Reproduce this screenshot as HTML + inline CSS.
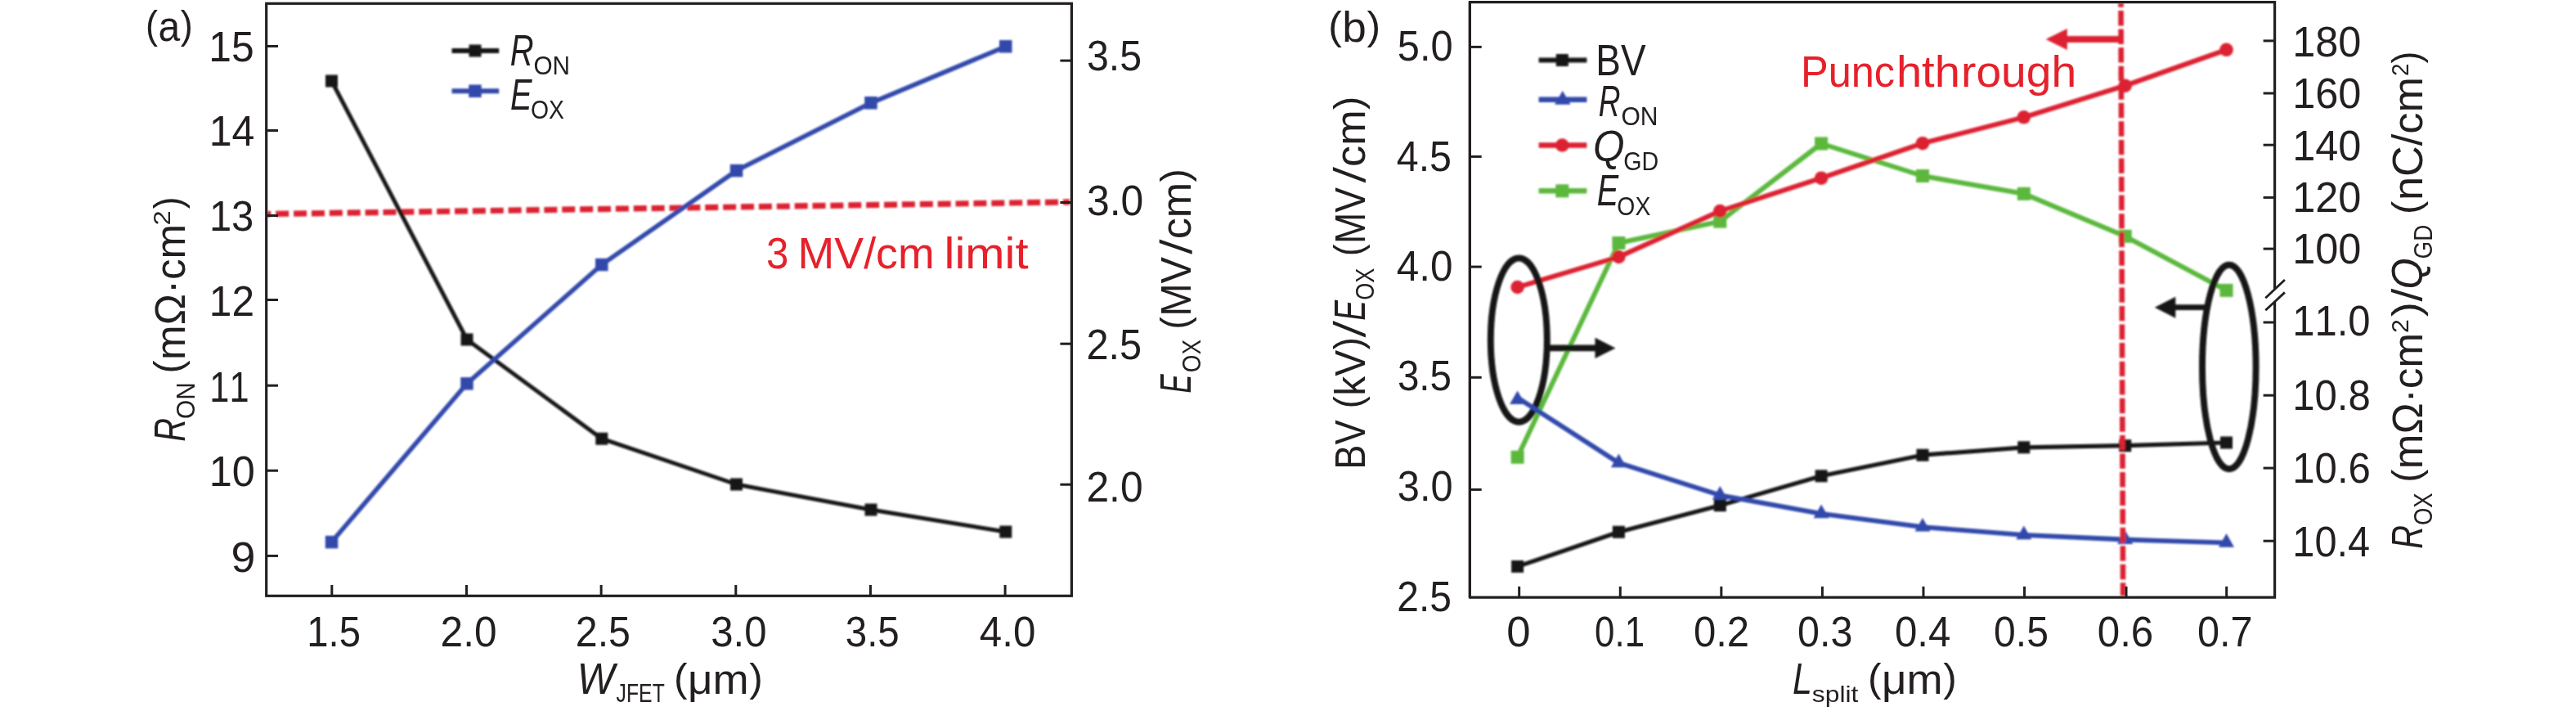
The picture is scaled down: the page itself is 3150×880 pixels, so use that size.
<!DOCTYPE html>
<html lang="en">
<head>
<meta charset="utf-8">
<title>Figure</title>
<style>
html,body{margin:0;padding:0;background:#fff;}
body{width:3150px;height:880px;overflow:hidden;}
svg{display:block;}
svg text{font-family:"Liberation Sans",sans-serif;font-kerning:none;}
</style>
</head>
<body>
<svg width="3150" height="880" viewBox="0 0 3150 880">
<rect x="0" y="0" width="3150" height="880" fill="#ffffff"/>
<defs><filter id="soft" x="-5%" y="-5%" width="110%" height="110%"><feGaussianBlur stdDeviation="0.85"/></filter></defs>
<g opacity="0.999">
<g id="pa" fill="#231f20">
<g filter="url(#soft)">
<line x1="327.00" y1="261.60" x2="1308.00" y2="246.90" stroke="#dc2333" stroke-width="7.2" stroke-dasharray="16 5.88" stroke-dashoffset="11.66"/>
<polyline fill="none" stroke="#141414" stroke-width="5" stroke-linejoin="round" points="405.5,99.0 571.0,415.0 735.8,536.2 900.5,592.0 1065.0,623.0 1229.8,650.0"/>
<rect x="398.0" y="91.5" width="15" height="15" fill="#141414"/>
<rect x="563.5" y="407.5" width="15" height="15" fill="#141414"/>
<rect x="728.3" y="528.7" width="15" height="15" fill="#141414"/>
<rect x="893.0" y="584.5" width="15" height="15" fill="#141414"/>
<rect x="1057.5" y="615.5" width="15" height="15" fill="#141414"/>
<rect x="1222.3" y="642.5" width="15" height="15" fill="#141414"/>
<polyline fill="none" stroke="#3349ab" stroke-width="5.6" stroke-linejoin="round" points="405.5,662.5 571.0,468.8 735.8,323.5 900.5,208.6 1065.0,125.8 1229.8,56.8"/>
<rect x="397.8" y="654.8" width="15.5" height="15.5" fill="#3349ab"/>
<rect x="563.2" y="461.1" width="15.5" height="15.5" fill="#3349ab"/>
<rect x="728.0" y="315.8" width="15.5" height="15.5" fill="#3349ab"/>
<rect x="892.8" y="200.8" width="15.5" height="15.5" fill="#3349ab"/>
<rect x="1057.2" y="118.0" width="15.5" height="15.5" fill="#3349ab"/>
<rect x="1222.0" y="49.0" width="15.5" height="15.5" fill="#3349ab"/>
</g>
<rect x="325.7" y="4.3" width="984.7" height="724.0" fill="none" stroke="#231f20" stroke-width="3.2"/>
<line x1="325.70" y1="56.50" x2="340.00" y2="56.50" stroke="#231f20" stroke-width="3"/>
<line x1="325.70" y1="159.50" x2="340.00" y2="159.50" stroke="#231f20" stroke-width="3"/>
<line x1="325.70" y1="263.50" x2="340.00" y2="263.50" stroke="#231f20" stroke-width="3"/>
<line x1="325.70" y1="366.50" x2="340.00" y2="366.50" stroke="#231f20" stroke-width="3"/>
<line x1="325.70" y1="471.20" x2="340.00" y2="471.20" stroke="#231f20" stroke-width="3"/>
<line x1="325.70" y1="575.20" x2="340.00" y2="575.20" stroke="#231f20" stroke-width="3"/>
<line x1="325.70" y1="679.40" x2="340.00" y2="679.40" stroke="#231f20" stroke-width="3"/>
<line x1="1296.40" y1="74.10" x2="1310.40" y2="74.10" stroke="#231f20" stroke-width="3"/>
<line x1="1296.40" y1="247.50" x2="1310.40" y2="247.50" stroke="#231f20" stroke-width="3"/>
<line x1="1296.40" y1="420.20" x2="1310.40" y2="420.20" stroke="#231f20" stroke-width="3"/>
<line x1="1296.40" y1="592.20" x2="1310.40" y2="592.20" stroke="#231f20" stroke-width="3"/>
<line x1="405.80" y1="728.30" x2="405.80" y2="715.00" stroke="#231f20" stroke-width="3"/>
<line x1="570.46" y1="728.30" x2="570.46" y2="715.00" stroke="#231f20" stroke-width="3"/>
<line x1="735.12" y1="728.30" x2="735.12" y2="715.00" stroke="#231f20" stroke-width="3"/>
<line x1="899.78" y1="728.30" x2="899.78" y2="715.00" stroke="#231f20" stroke-width="3"/>
<line x1="1064.44" y1="728.30" x2="1064.44" y2="715.00" stroke="#231f20" stroke-width="3"/>
<line x1="1229.10" y1="728.30" x2="1229.10" y2="715.00" stroke="#231f20" stroke-width="3"/>
<g filter="url(#soft)">
<line x1="552.50" y1="62.00" x2="610.20" y2="62.00" stroke="#141414" stroke-width="5.8"/>
<rect x="573.5" y="54.5" width="15" height="15" fill="#141414"/>
<line x1="552.50" y1="111.20" x2="610.20" y2="111.20" stroke="#3349ab" stroke-width="6"/>
<rect x="573.2" y="103.5" width="15.5" height="15.5" fill="#3349ab"/>
</g>
<text x="623.87" y="80.00" font-size="53" font-style="italic" textLength="28.86" lengthAdjust="spacingAndGlyphs">R</text>
<text x="652.39" y="90.60" font-size="31" textLength="44.64" lengthAdjust="spacingAndGlyphs">ON</text>
<text x="623.88" y="134.10" font-size="53" font-style="italic" textLength="26.56" lengthAdjust="spacingAndGlyphs">E</text>
<text x="648.96" y="145.20" font-size="31" textLength="40.94" lengthAdjust="spacingAndGlyphs">OX</text>
<text x="936.93" y="328.00" font-size="53" fill="#e6212b" textLength="27.33" lengthAdjust="spacingAndGlyphs">3</text>
<text x="975.60" y="328.00" font-size="53" fill="#e6212b" textLength="167.04" lengthAdjust="spacingAndGlyphs">MV/cm</text>
<text x="1154.60" y="328.00" font-size="53" fill="#e6212b" textLength="102.93" lengthAdjust="spacingAndGlyphs">limit</text>
<text x="178.10" y="47.18" font-size="48.88" textLength="15.02" lengthAdjust="spacingAndGlyphs">(</text>
<text x="193.61" y="50.40" font-size="52" textLength="26.69" lengthAdjust="spacingAndGlyphs">a</text>
<text x="220.77" y="47.18" font-size="48.88" textLength="15.02" lengthAdjust="spacingAndGlyphs">)</text>
<text x="255.21" y="74.50" font-size="52" textLength="55.38" lengthAdjust="spacingAndGlyphs">15</text>
<text x="255.79" y="178.00" font-size="52" textLength="55.68" lengthAdjust="spacingAndGlyphs">14</text>
<text x="255.88" y="281.90" font-size="52" textLength="54.37" lengthAdjust="spacingAndGlyphs">13</text>
<text x="255.82" y="386.10" font-size="52" textLength="55.17" lengthAdjust="spacingAndGlyphs">12</text>
<text x="256.30" y="490.50" font-size="52" textLength="48.22" lengthAdjust="spacingAndGlyphs">11</text>
<text x="255.76" y="594.40" font-size="52" textLength="56.11" lengthAdjust="spacingAndGlyphs">10</text>
<text x="282.48" y="698.70" font-size="52" textLength="29.86" lengthAdjust="spacingAndGlyphs">9</text>
<text transform="translate(225.60 538.60) rotate(-90)" x="-1.23" y="0.00" font-size="53" font-style="italic" textLength="28.86" lengthAdjust="spacingAndGlyphs">R</text>
<text transform="translate(238.20 510.60) rotate(-90)" x="-1.41" y="0.00" font-size="31" textLength="44.64" lengthAdjust="spacingAndGlyphs">ON</text>
<text transform="translate(225.60 453.80) rotate(-90)" x="-2.66" y="-3.22" font-size="48.88" textLength="16.01" lengthAdjust="spacingAndGlyphs">(</text>
<text transform="translate(225.60 453.80) rotate(-90)" x="13.86" y="0.00" font-size="52" textLength="166.01" lengthAdjust="spacingAndGlyphs">mΩ·cm</text>
<text transform="translate(208.40 273.90) rotate(-90)" x="-1.64" y="0.00" font-size="30" textLength="18.19" lengthAdjust="spacingAndGlyphs">2</text>
<text transform="translate(225.60 255.50) rotate(-90)" x="0.19" y="-3.22" font-size="48.88" textLength="14.76" lengthAdjust="spacingAndGlyphs">)</text>
<text x="375.31" y="789.50" font-size="52" textLength="65.57" lengthAdjust="spacingAndGlyphs">1.5</text>
<text x="538.61" y="789.50" font-size="52" textLength="68.93" lengthAdjust="spacingAndGlyphs">2.0</text>
<text x="703.77" y="789.50" font-size="52" textLength="67.16" lengthAdjust="spacingAndGlyphs">2.5</text>
<text x="869.23" y="789.50" font-size="52" textLength="68.29" lengthAdjust="spacingAndGlyphs">3.0</text>
<text x="1033.79" y="789.50" font-size="52" textLength="66.00" lengthAdjust="spacingAndGlyphs">3.5</text>
<text x="1197.77" y="789.50" font-size="52" textLength="68.56" lengthAdjust="spacingAndGlyphs">4.0</text>
<text x="705.79" y="848.40" font-size="53" font-style="italic" textLength="45.98" lengthAdjust="spacingAndGlyphs">W</text>
<text x="753.61" y="858.20" font-size="31" textLength="59.16" lengthAdjust="spacingAndGlyphs">JFET</text>
<text x="823.95" y="845.18" font-size="48.88" textLength="16.57" lengthAdjust="spacingAndGlyphs">(</text>
<text x="841.05" y="848.40" font-size="52" textLength="74.61" lengthAdjust="spacingAndGlyphs">μm</text>
<text x="916.18" y="845.18" font-size="48.88" textLength="16.57" lengthAdjust="spacingAndGlyphs">)</text>
<text x="1329.06" y="86.40" font-size="52" textLength="67.06" lengthAdjust="spacingAndGlyphs">3.5</text>
<text x="1329.00" y="262.60" font-size="52" textLength="69.35" lengthAdjust="spacingAndGlyphs">3.0</text>
<text x="1328.45" y="438.50" font-size="52" textLength="67.69" lengthAdjust="spacingAndGlyphs">2.5</text>
<text x="1328.39" y="613.40" font-size="52" textLength="69.25" lengthAdjust="spacingAndGlyphs">2.0</text>
<text transform="translate(1456.30 479.40) rotate(-90)" x="-1.07" y="0.00" font-size="53" font-style="italic" textLength="23.25" lengthAdjust="spacingAndGlyphs">E</text>
<text transform="translate(1468.00 453.90) rotate(-90)" x="-1.32" y="0.00" font-size="31" textLength="40.20" lengthAdjust="spacingAndGlyphs">OX</text>
<text transform="translate(1456.30 400.00) rotate(-90)" x="-2.53" y="-3.22" font-size="48.88" textLength="15.20" lengthAdjust="spacingAndGlyphs">(</text>
<text transform="translate(1456.30 400.00) rotate(-90)" x="13.16" y="0.00" font-size="52" textLength="72.85" lengthAdjust="spacingAndGlyphs">MV</text>
<polygon transform="translate(1456.30 310.70) rotate(-90)" fill="#231f20" points="0,1.40 4.50,1.40 18.30,-38.60 13.80,-38.60"/>
<text transform="translate(1456.30 290.10) rotate(-90)" x="-2.21" y="0.00" font-size="52" textLength="69.40" lengthAdjust="spacingAndGlyphs">cm</text>
<text transform="translate(1456.30 290.10) rotate(-90)" x="67.71" y="-3.22" font-size="48.88" textLength="16.30" lengthAdjust="spacingAndGlyphs">)</text>
</g>
<g id="pb" fill="#231f20">
<g filter="url(#soft)">
<polyline fill="none" stroke="#5bb83d" stroke-width="6" stroke-linejoin="round" points="1855.6,558.8 1979.4,297.0 2103.3,270.6 2227.1,175.5 2351.0,215.0 2474.8,236.8 2598.7,288.8 2722.5,354.9"/>
<rect x="1847.6" y="550.8" width="16" height="16" fill="#5bb83d"/>
<rect x="1971.4" y="289.0" width="16" height="16" fill="#5bb83d"/>
<rect x="2095.3" y="262.6" width="16" height="16" fill="#5bb83d"/>
<rect x="2219.1" y="167.5" width="16" height="16" fill="#5bb83d"/>
<rect x="2343.0" y="207.0" width="16" height="16" fill="#5bb83d"/>
<rect x="2466.8" y="228.8" width="16" height="16" fill="#5bb83d"/>
<rect x="2590.7" y="280.8" width="16" height="16" fill="#5bb83d"/>
<rect x="2714.5" y="346.9" width="16" height="16" fill="#5bb83d"/>
<polyline fill="none" stroke="#dc2333" stroke-width="6" stroke-linejoin="round" points="1855.6,351.0 1979.4,314.0 2103.3,258.0 2227.1,217.7 2351.0,175.2 2474.8,143.3 2598.7,104.7 2722.5,60.8"/>
<circle cx="1855.6" cy="351.0" r="8.3" fill="#dc2333"/>
<circle cx="1979.4" cy="314.0" r="8.3" fill="#dc2333"/>
<circle cx="2103.3" cy="258.0" r="8.3" fill="#dc2333"/>
<circle cx="2227.1" cy="217.7" r="8.3" fill="#dc2333"/>
<circle cx="2351.0" cy="175.2" r="8.3" fill="#dc2333"/>
<circle cx="2474.8" cy="143.3" r="8.3" fill="#dc2333"/>
<circle cx="2598.7" cy="104.7" r="8.3" fill="#dc2333"/>
<circle cx="2722.5" cy="60.8" r="8.3" fill="#dc2333"/>
<polyline fill="none" stroke="#141414" stroke-width="5.2" stroke-linejoin="round" points="1855.6,692.4 1979.4,650.2 2103.3,617.7 2227.1,581.8 2351.0,556.2 2474.8,546.8 2598.7,544.7 2722.5,541.0"/>
<rect x="1848.1" y="684.9" width="15" height="15" fill="#141414"/>
<rect x="1971.9" y="642.7" width="15" height="15" fill="#141414"/>
<rect x="2095.8" y="610.2" width="15" height="15" fill="#141414"/>
<rect x="2219.6" y="574.3" width="15" height="15" fill="#141414"/>
<rect x="2343.5" y="548.7" width="15" height="15" fill="#141414"/>
<rect x="2467.3" y="539.3" width="15" height="15" fill="#141414"/>
<rect x="2591.2" y="537.2" width="15" height="15" fill="#141414"/>
<rect x="2715.0" y="533.5" width="15" height="15" fill="#141414"/>
<ellipse cx="1857.3" cy="415.6" rx="34.5" ry="100.1" fill="none" stroke="#141414" stroke-width="7.9"/>
<ellipse cx="2725.8" cy="448.5" rx="32.8" ry="124.7" fill="none" stroke="#141414" stroke-width="7.9"/>
<line x1="1889.50" y1="425.30" x2="1953.00" y2="425.30" stroke="#141414" stroke-width="7.8"/>
<polygon fill="#141414" points="1975.5,425.4 1950.5,412.7 1950.5,438.1"/>
<line x1="2697.00" y1="375.70" x2="2658.00" y2="375.70" stroke="#141414" stroke-width="6.8"/>
<polygon fill="#141414" points="2634.8,375.7 2660.3,362.7 2660.3,388.7"/>
<polyline fill="none" stroke="#3349ab" stroke-width="5.8" stroke-linejoin="round" points="1855.6,486.0 1979.4,565.8 2103.3,605.3 2227.1,627.8 2351.0,644.2 2474.8,653.8 2598.7,659.5 2722.5,663.3"/>
<polygon fill="#3349ab" points="1855.6,477.5 1846.1,494.0 1865.1,494.0"/>
<polygon fill="#3349ab" points="1979.4,554.5 1969.9,571.2 1988.9,571.2"/>
<polygon fill="#3349ab" points="2103.3,594.0 2093.8,610.7 2112.8,610.7"/>
<polygon fill="#3349ab" points="2227.1,616.5 2217.6,633.2 2236.6,633.2"/>
<polygon fill="#3349ab" points="2351.0,632.9 2341.5,649.6 2360.5,649.6"/>
<polygon fill="#3349ab" points="2474.8,642.5 2465.3,659.2 2484.3,659.2"/>
<polygon fill="#3349ab" points="2598.7,648.2 2589.2,664.9 2608.2,664.9"/>
<polygon fill="#3349ab" points="2722.5,652.0 2713.0,668.7 2732.0,668.7"/>
<line x1="2593.50" y1="4.00" x2="2596.10" y2="728.00" stroke="#dc2333" stroke-width="6.6" stroke-dasharray="18.4 4.16" stroke-dashoffset="13.56"/>
<line x1="2596.00" y1="48.10" x2="2526.00" y2="48.10" stroke="#dc2333" stroke-width="8"/>
<polygon fill="#dc2333" points="2501.6,48.1 2527.8,35.0 2527.8,61.0"/>
</g>
<text x="2201.95" y="106.20" font-size="53" fill="#e6212b" textLength="115.18" lengthAdjust="spacingAndGlyphs">Punc</text>
<text x="2318.91" y="106.20" font-size="53" fill="#e6212b" textLength="78.04" lengthAdjust="spacingAndGlyphs">hth</text>
<text x="2398.04" y="106.20" font-size="53" fill="#e6212b" textLength="141.15" lengthAdjust="spacingAndGlyphs">rough</text>
<path d="M1797.4 730.1 H1797.4 V2.6 M1797.4 2.6 V2.6 H2781.6 V353.0" fill="none" stroke="#231f20" stroke-width="3.2" stroke-linejoin="miter"/>
<path d="M2781.6 368.5 V730.1 H1797.4" fill="none" stroke="#231f20" stroke-width="3.2"/>
<line x1="1797.40" y1="1.10" x2="1797.40" y2="731.60" stroke="#231f20" stroke-width="3.2"/>
<line x1="2770.30" y1="364.30" x2="2793.90" y2="342.00" stroke="#231f20" stroke-width="2.8"/>
<line x1="2770.30" y1="379.20" x2="2793.90" y2="357.40" stroke="#231f20" stroke-width="2.8"/>
<line x1="1797.40" y1="57.40" x2="1811.70" y2="57.40" stroke="#231f20" stroke-width="3"/>
<line x1="1797.40" y1="191.40" x2="1811.70" y2="191.40" stroke="#231f20" stroke-width="3"/>
<line x1="1797.40" y1="326.10" x2="1811.70" y2="326.10" stroke="#231f20" stroke-width="3"/>
<line x1="1797.40" y1="461.30" x2="1811.70" y2="461.30" stroke="#231f20" stroke-width="3"/>
<line x1="1797.40" y1="598.40" x2="1811.70" y2="598.40" stroke="#231f20" stroke-width="3"/>
<line x1="2767.60" y1="49.90" x2="2781.60" y2="49.90" stroke="#231f20" stroke-width="3"/>
<line x1="2767.60" y1="114.00" x2="2781.60" y2="114.00" stroke="#231f20" stroke-width="3"/>
<line x1="2767.60" y1="177.20" x2="2781.60" y2="177.20" stroke="#231f20" stroke-width="3"/>
<line x1="2767.60" y1="241.40" x2="2781.60" y2="241.40" stroke="#231f20" stroke-width="3"/>
<line x1="2767.60" y1="304.10" x2="2781.60" y2="304.10" stroke="#231f20" stroke-width="3"/>
<line x1="2767.60" y1="394.00" x2="2781.60" y2="394.00" stroke="#231f20" stroke-width="3"/>
<line x1="2767.60" y1="483.20" x2="2781.60" y2="483.20" stroke="#231f20" stroke-width="3"/>
<line x1="2767.60" y1="572.10" x2="2781.60" y2="572.10" stroke="#231f20" stroke-width="3"/>
<line x1="2767.60" y1="661.20" x2="2781.60" y2="661.20" stroke="#231f20" stroke-width="3"/>
<line x1="1857.70" y1="730.10" x2="1857.70" y2="716.80" stroke="#231f20" stroke-width="3"/>
<line x1="1981.27" y1="730.10" x2="1981.27" y2="716.80" stroke="#231f20" stroke-width="3"/>
<line x1="2104.84" y1="730.10" x2="2104.84" y2="716.80" stroke="#231f20" stroke-width="3"/>
<line x1="2228.41" y1="730.10" x2="2228.41" y2="716.80" stroke="#231f20" stroke-width="3"/>
<line x1="2351.98" y1="730.10" x2="2351.98" y2="716.80" stroke="#231f20" stroke-width="3"/>
<line x1="2475.55" y1="730.10" x2="2475.55" y2="716.80" stroke="#231f20" stroke-width="3"/>
<line x1="2600.00" y1="730.10" x2="2600.00" y2="716.80" stroke="#231f20" stroke-width="3"/>
<line x1="2722.69" y1="730.10" x2="2722.69" y2="716.80" stroke="#231f20" stroke-width="3"/>
<g filter="url(#soft)">
<line x1="1881.60" y1="73.50" x2="1940.40" y2="73.50" stroke="#141414" stroke-width="6"/>
<rect x="1902.8" y="66.0" width="15" height="15" fill="#141414"/>
<line x1="1881.60" y1="121.80" x2="1940.40" y2="121.80" stroke="#3349ab" stroke-width="6.6"/>
<polygon fill="#3349ab" points="1910.8,111.0 1901.0,127.8 1920.5,127.8"/>
<line x1="1881.60" y1="177.50" x2="1940.40" y2="177.50" stroke="#dc2333" stroke-width="6.6"/>
<circle cx="1910.3" cy="177.5" r="8.3" fill="#dc2333"/>
<line x1="1881.60" y1="233.30" x2="1940.40" y2="233.30" stroke="#5bb83d" stroke-width="6.6"/>
<rect x="1902.3" y="225.3" width="16" height="16" fill="#5bb83d"/>
</g>
<text x="1951.33" y="92.30" font-size="53" textLength="61.27" lengthAdjust="spacingAndGlyphs">BV</text>
<text x="1954.66" y="142.00" font-size="53" font-style="italic" textLength="26.78" lengthAdjust="spacingAndGlyphs">R</text>
<text x="1982.38" y="153.30" font-size="31" textLength="45.07" lengthAdjust="spacingAndGlyphs">ON</text>
<text x="1948.05" y="197.30" font-size="53" font-style="italic" textLength="38.57" lengthAdjust="spacingAndGlyphs">Q</text>
<text x="1985.26" y="207.60" font-size="31" textLength="43.01" lengthAdjust="spacingAndGlyphs">GD</text>
<text x="1952.78" y="251.20" font-size="53" font-style="italic" textLength="26.45" lengthAdjust="spacingAndGlyphs">E</text>
<text x="1977.36" y="263.00" font-size="31" textLength="40.94" lengthAdjust="spacingAndGlyphs">OX</text>
<text x="1624.24" y="47.68" font-size="48.88" textLength="16.62" lengthAdjust="spacingAndGlyphs">(</text>
<text x="1641.39" y="50.90" font-size="52" textLength="29.53" lengthAdjust="spacingAndGlyphs">b</text>
<text x="1671.44" y="47.68" font-size="48.88" textLength="16.62" lengthAdjust="spacingAndGlyphs">)</text>
<text x="1708.75" y="74.00" font-size="52" textLength="67.86" lengthAdjust="spacingAndGlyphs">5.0</text>
<text x="1707.79" y="209.20" font-size="52" textLength="67.24" lengthAdjust="spacingAndGlyphs">4.5</text>
<text x="1707.76" y="343.30" font-size="52" textLength="68.87" lengthAdjust="spacingAndGlyphs">4.0</text>
<text x="1708.89" y="476.80" font-size="52" textLength="66.11" lengthAdjust="spacingAndGlyphs">3.5</text>
<text x="1708.84" y="611.50" font-size="52" textLength="67.76" lengthAdjust="spacingAndGlyphs">3.0</text>
<text x="1708.29" y="746.50" font-size="52" textLength="66.73" lengthAdjust="spacingAndGlyphs">2.5</text>
<text transform="translate(1668.50 570.10) rotate(-90)" x="-3.72" y="0.00" font-size="52" textLength="60.52" lengthAdjust="spacingAndGlyphs">BV</text>
<text transform="translate(1668.50 496.80) rotate(-90)" x="-2.50" y="-3.22" font-size="48.88" textLength="15.02" lengthAdjust="spacingAndGlyphs">(</text>
<text transform="translate(1668.50 496.80) rotate(-90)" x="13.00" y="0.00" font-size="52" textLength="55.99" lengthAdjust="spacingAndGlyphs">kV</text>
<text transform="translate(1668.50 496.80) rotate(-90)" x="69.48" y="-3.22" font-size="48.88" textLength="15.02" lengthAdjust="spacingAndGlyphs">)</text>
<polygon transform="translate(1668.50 412.50) rotate(-90)" fill="#231f20" points="0,1.40 4.50,1.40 20.60,-38.60 16.10,-38.60"/>
<text transform="translate(1668.50 390.70) rotate(-90)" x="-1.14" y="0.00" font-size="53" font-style="italic" textLength="24.80" lengthAdjust="spacingAndGlyphs">E</text>
<text transform="translate(1680.20 365.50) rotate(-90)" x="-1.28" y="0.00" font-size="31" textLength="39.15" lengthAdjust="spacingAndGlyphs">OX</text>
<text transform="translate(1668.50 310.50) rotate(-90)" x="-2.39" y="-3.22" font-size="48.88" textLength="14.41" lengthAdjust="spacingAndGlyphs">(</text>
<text transform="translate(1668.50 310.50) rotate(-90)" x="12.47" y="0.00" font-size="52" textLength="69.03" lengthAdjust="spacingAndGlyphs">MV</text>
<polygon transform="translate(1668.50 223.50) rotate(-90)" fill="#231f20" points="0,1.40 4.50,1.40 19.50,-38.60 15.00,-38.60"/>
<text transform="translate(1668.50 201.70) rotate(-90)" x="-2.21" y="0.00" font-size="52" textLength="69.49" lengthAdjust="spacingAndGlyphs">cm</text>
<text transform="translate(1668.50 201.70) rotate(-90)" x="67.79" y="-3.22" font-size="48.88" textLength="16.32" lengthAdjust="spacingAndGlyphs">)</text>
<text x="1842.34" y="789.50" font-size="52" textLength="29.32" lengthAdjust="spacingAndGlyphs">0</text>
<text x="1950.09" y="789.50" font-size="52" textLength="60.95" lengthAdjust="spacingAndGlyphs">0.1</text>
<text x="2070.98" y="789.50" font-size="52" textLength="68.18" lengthAdjust="spacingAndGlyphs">0.2</text>
<text x="2198.11" y="789.50" font-size="52" textLength="67.32" lengthAdjust="spacingAndGlyphs">0.3</text>
<text x="2316.98" y="789.50" font-size="52" textLength="68.47" lengthAdjust="spacingAndGlyphs">0.4</text>
<text x="2438.12" y="789.50" font-size="52" textLength="66.79" lengthAdjust="spacingAndGlyphs">0.5</text>
<text x="2564.78" y="789.50" font-size="52" textLength="68.49" lengthAdjust="spacingAndGlyphs">0.6</text>
<text x="2687.00" y="789.50" font-size="52" textLength="67.65" lengthAdjust="spacingAndGlyphs">0.7</text>
<text x="2191.98" y="848.40" font-size="53" font-style="italic" textLength="23.93" lengthAdjust="spacingAndGlyphs">L</text>
<text x="2215.81" y="858.20" font-size="28.5" textLength="56.62" lengthAdjust="spacingAndGlyphs">split</text>
<text x="2283.95" y="845.18" font-size="48.88" textLength="16.57" lengthAdjust="spacingAndGlyphs">(</text>
<text x="2301.05" y="848.40" font-size="52" textLength="74.61" lengthAdjust="spacingAndGlyphs">μm</text>
<text x="2376.18" y="845.18" font-size="48.88" textLength="16.57" lengthAdjust="spacingAndGlyphs">)</text>
<text x="2803.16" y="69.00" font-size="52" textLength="84.22" lengthAdjust="spacingAndGlyphs">180</text>
<text x="2803.16" y="132.30" font-size="52" textLength="84.22" lengthAdjust="spacingAndGlyphs">160</text>
<text x="2803.16" y="195.50" font-size="52" textLength="84.22" lengthAdjust="spacingAndGlyphs">140</text>
<text x="2803.16" y="259.00" font-size="52" textLength="84.22" lengthAdjust="spacingAndGlyphs">120</text>
<text x="2803.16" y="322.20" font-size="52" textLength="84.22" lengthAdjust="spacingAndGlyphs">100</text>
<text x="2803.27" y="410.40" font-size="52" textLength="95.35" lengthAdjust="spacingAndGlyphs">11.0</text>
<text x="2803.26" y="500.50" font-size="52" textLength="95.57" lengthAdjust="spacingAndGlyphs">10.8</text>
<text x="2803.26" y="590.10" font-size="52" textLength="95.60" lengthAdjust="spacingAndGlyphs">10.6</text>
<text x="2803.29" y="680.10" font-size="52" textLength="94.84" lengthAdjust="spacingAndGlyphs">10.4</text>
<text transform="translate(2962.20 669.50) rotate(-90)" x="-1.23" y="0.00" font-size="53" font-style="italic" textLength="28.86" lengthAdjust="spacingAndGlyphs">R</text>
<text transform="translate(2974.30 640.80) rotate(-90)" x="-1.30" y="0.00" font-size="31" textLength="39.68" lengthAdjust="spacingAndGlyphs">OX</text>
<text transform="translate(2962.20 587.00) rotate(-90)" x="-2.66" y="-3.22" font-size="48.88" textLength="16.02" lengthAdjust="spacingAndGlyphs">(</text>
<text transform="translate(2962.20 587.00) rotate(-90)" x="13.87" y="0.00" font-size="52" textLength="166.20" lengthAdjust="spacingAndGlyphs">mΩ·cm</text>
<text transform="translate(2944.50 405.50) rotate(-90)" x="-1.51" y="0.00" font-size="30" textLength="16.72" lengthAdjust="spacingAndGlyphs">2</text>
<text transform="translate(2962.20 387.20) rotate(-90)" x="0.23" y="-3.22" font-size="48.88" textLength="17.80" lengthAdjust="spacingAndGlyphs">)</text>
<text transform="translate(2962.20 387.20) rotate(-90)" x="18.60" y="0.00" font-size="52" textLength="15.80" lengthAdjust="spacingAndGlyphs">/</text>
<text transform="translate(2962.20 351.00) rotate(-90)" x="-2.41" y="0.00" font-size="53" font-style="italic" textLength="38.01" lengthAdjust="spacingAndGlyphs">Q</text>
<text transform="translate(2974.30 315.00) rotate(-90)" x="-1.40" y="0.00" font-size="31" textLength="41.73" lengthAdjust="spacingAndGlyphs">GD</text>
<text transform="translate(2962.20 259.20) rotate(-90)" x="-2.72" y="-3.22" font-size="48.88" textLength="16.37" lengthAdjust="spacingAndGlyphs">(</text>
<text transform="translate(2962.20 259.20) rotate(-90)" x="14.17" y="0.00" font-size="52" textLength="151.08" lengthAdjust="spacingAndGlyphs">nC/cm</text>
<text transform="translate(2944.50 91.70) rotate(-90)" x="-1.40" y="0.00" font-size="30" textLength="15.50" lengthAdjust="spacingAndGlyphs">2</text>
<text transform="translate(2962.20 77.80) rotate(-90)" x="0.19" y="-3.22" font-size="48.88" textLength="14.76" lengthAdjust="spacingAndGlyphs">)</text>
</g>
</g>
</svg>
</body>
</html>
